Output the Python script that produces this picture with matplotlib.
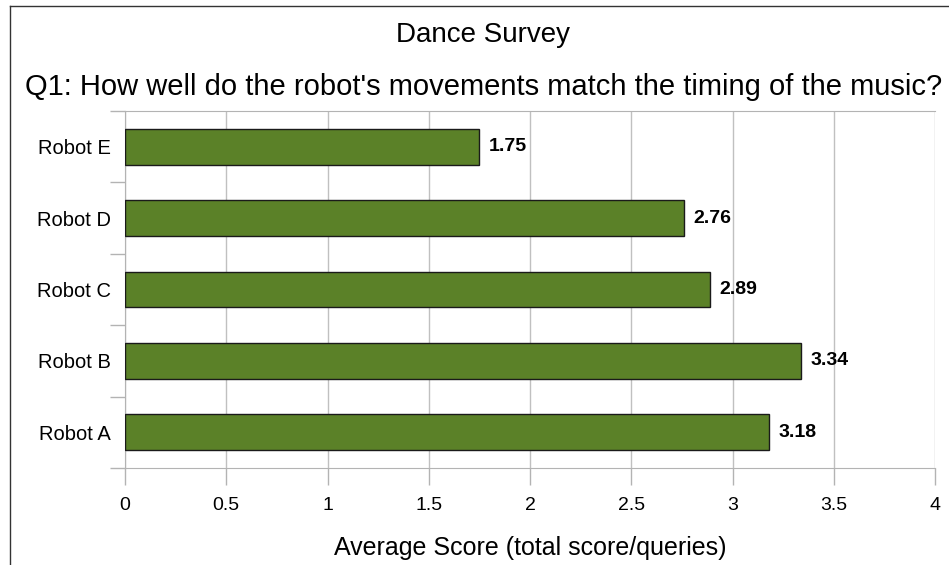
import matplotlib
matplotlib.use('Agg')
import matplotlib.pyplot as plt
from matplotlib.lines import Line2D
import numpy as np

# 数据
robots = ['Robot A', 'Robot B', 'Robot C', 'Robot D', 'Robot E']
scores = [3.18, 3.34, 2.89, 2.76, 1.75]
xticks = [0, 0.5, 1, 1.5, 2, 2.5, 3, 3.5, 4]
xtick_labels = ['0', '0.5', '1', '1.5', '2', '2.5', '3', '3.5', '4']

plt.rcParams['font.family'] = ['Liberation Sans', 'DejaVu Sans']

W, H = 949, 565
fig = plt.figure(figsize=(W / 100, H / 100), dpi=100)
ax = fig.add_axes([125 / W, 1 - 468 / H, (935 - 125) / W, (468 - 111) / H])

# 外框（只有左边和上边可见）
fig.lines.append(Line2D([9.5 / W, 9.5 / W], [0, 1 - 5.5 / H], transform=fig.transFigure,
                        color='#333333', linewidth=1))
fig.lines.append(Line2D([9.5 / W, 1], [1 - 5.5 / H, 1 - 5.5 / H], transform=fig.transFigure,
                        color='#333333', linewidth=1))

y = np.arange(len(robots))
ax.barh(y, scores, height=0.5, color='#5b8128', edgecolor='#1a1a1a', linewidth=1, zorder=3)
for yi, v in zip(y, scores):
    ax.text(v + 0.045, yi, '%.2f' % v, va='center', ha='left', fontsize=14, fontweight='bold', zorder=4)

ax.set_xlim(0, 4)
ax.set_ylim(-0.5, len(robots) - 0.5)
ax.set_xticks(xticks)
ax.set_xticklabels(xtick_labels, fontsize=14)
ax.set_yticks(y)
ax.set_yticklabels(robots, fontsize=14.5)
ax.set_yticks(np.arange(-0.5, len(robots), 1), minor=True)
ax.tick_params(axis='y', which='major', length=0, pad=10)
ax.tick_params(axis='y', which='minor', length=11, color='#b3b3b3', width=1)
ax.tick_params(axis='x', which='major', length=12, color='#b3b3b3', width=1, pad=9)
ax.grid(True, axis='x', color='#c0c0c0', linewidth=1, zorder=0)
for s in ax.spines.values():
    s.set_color('#b3b3b3')
ax.spines['right'].set_visible(False)

ax.set_xlabel('Average Score (total score/queries)', fontsize=18, labelpad=16)

fig.text(483 / W, 1 - 35 / H, 'Dance Survey', ha='center', va='center', fontsize=20)
fig.text(484 / W, 1 - 87 / H, "Q1: How well do the robot's movements match the timing of the music?",
         ha='center', va='center', fontsize=21)

plt.savefig('out.png', dpi=100)
